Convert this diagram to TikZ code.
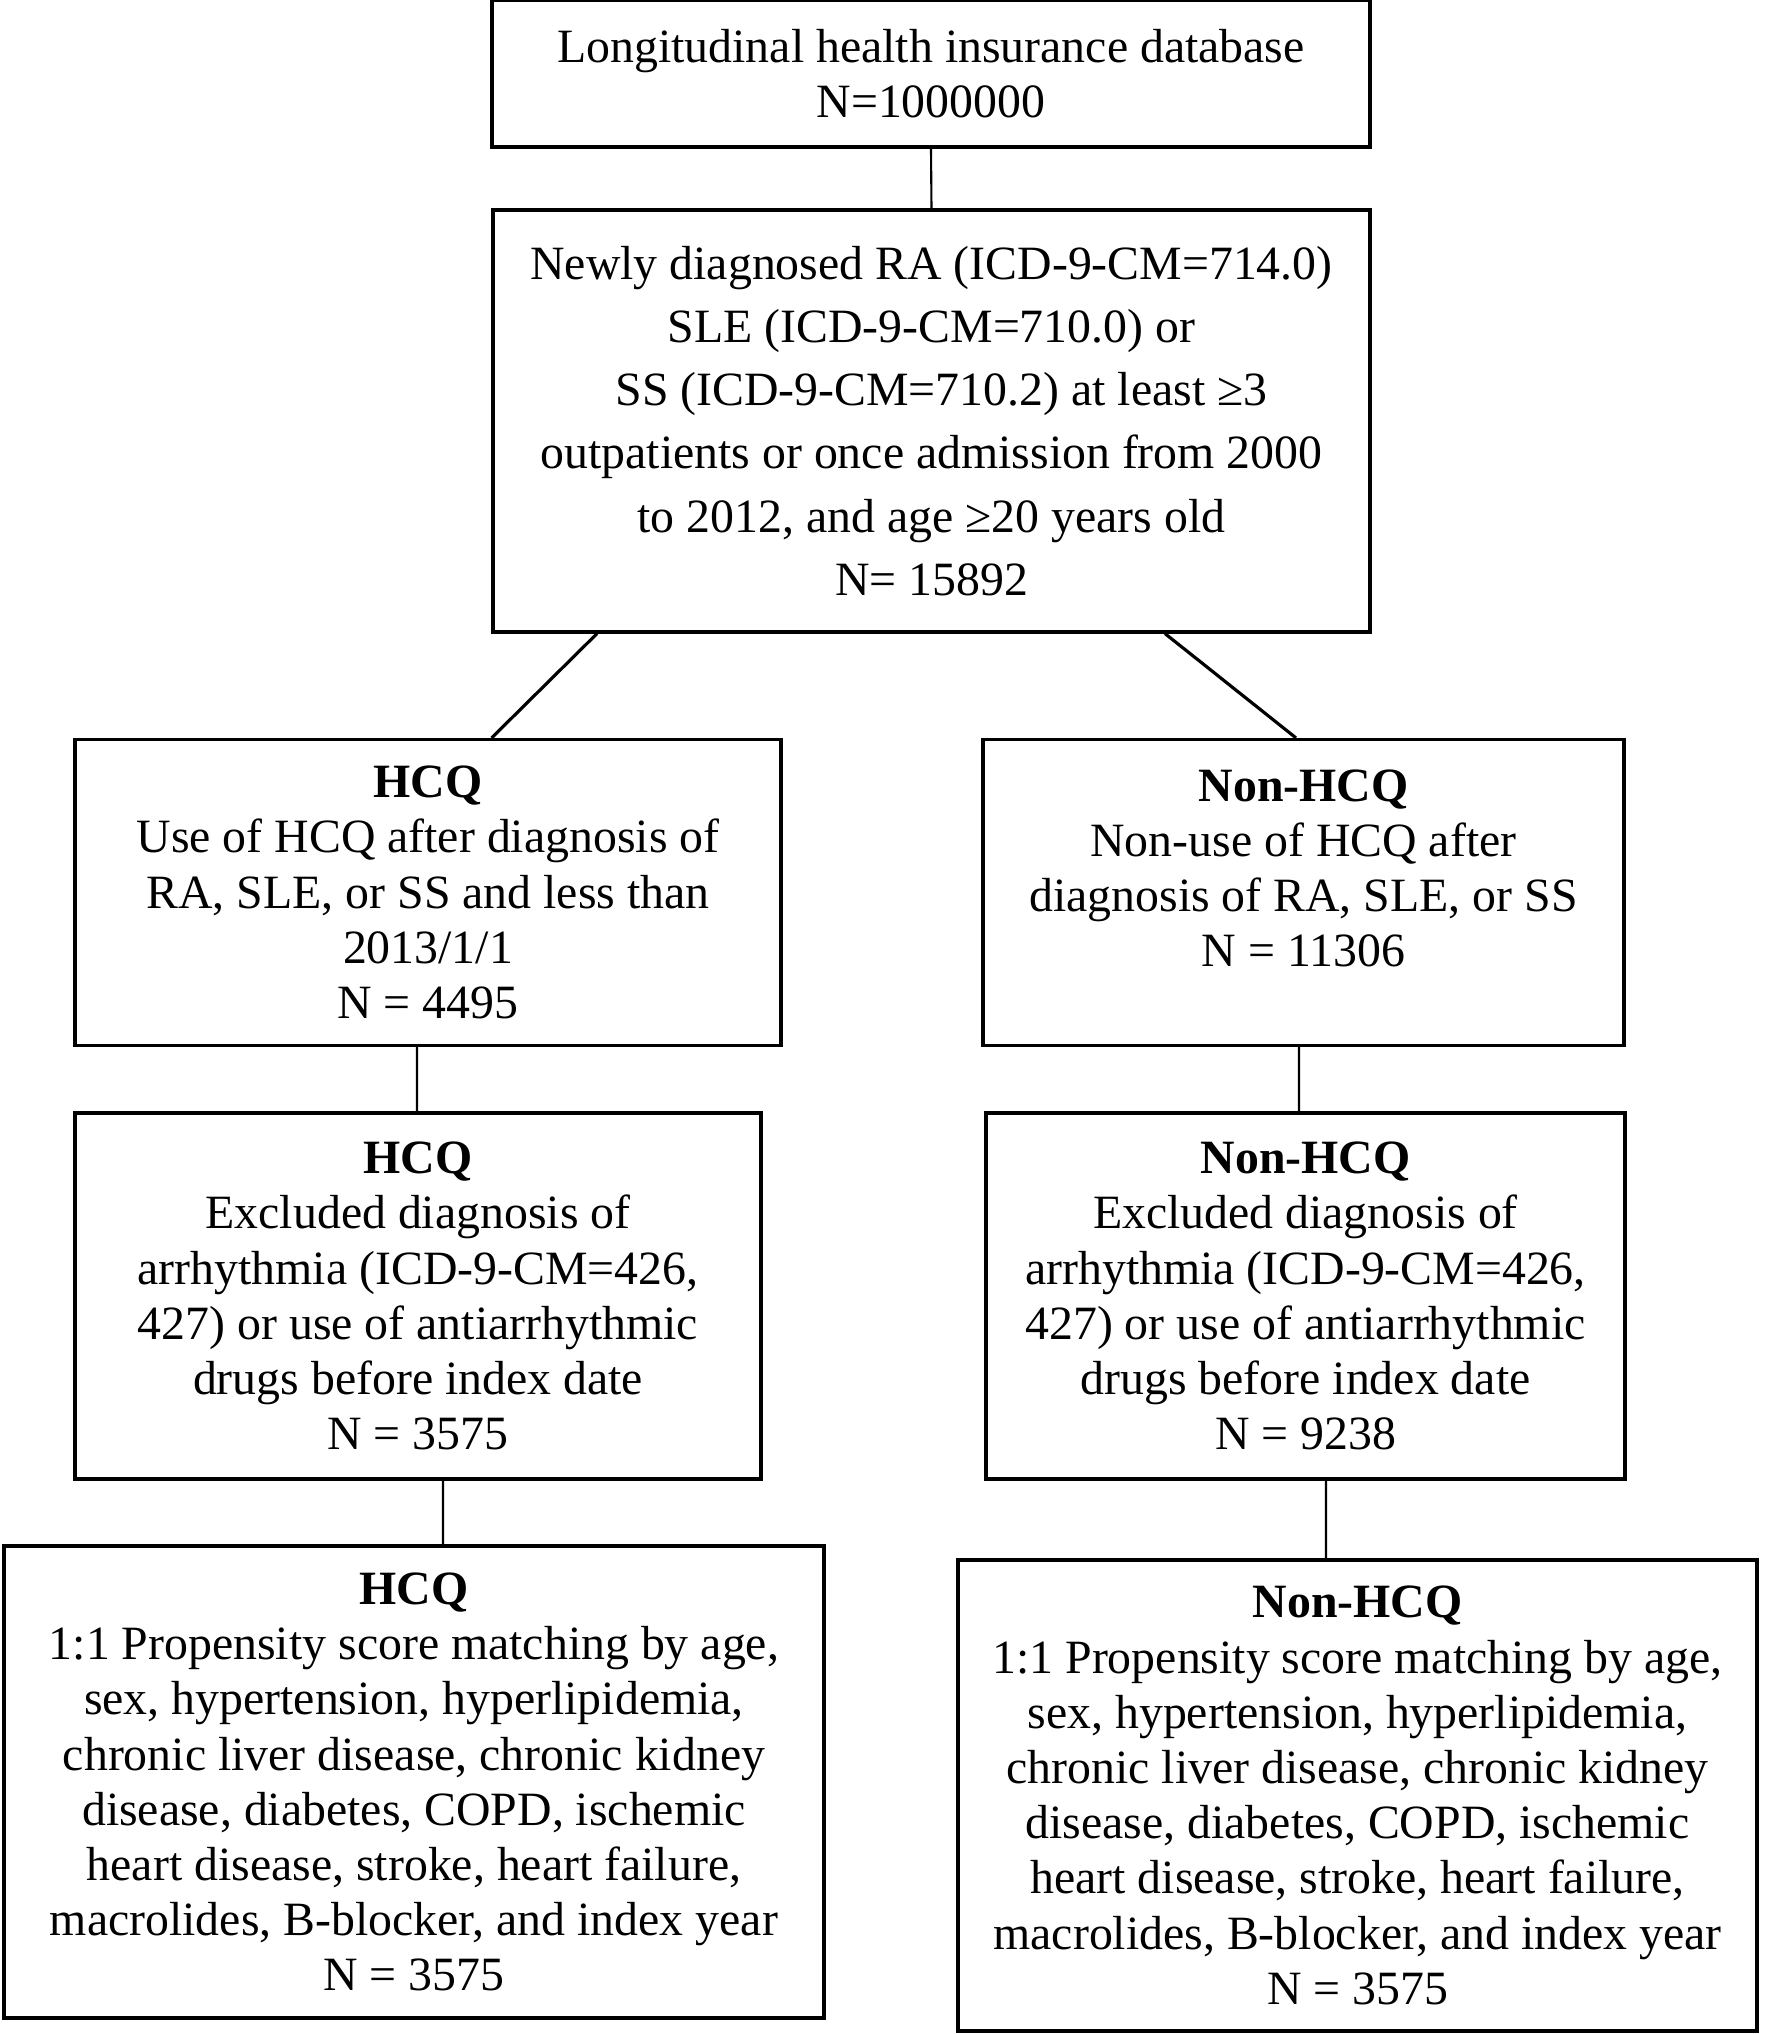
\documentclass[tikz,border=0pt]{standalone}
\usepackage{fontspec}
\setmainfont{Liberation Serif}
\tikzset{
  flowbox/.style={draw, line width=0.9pt, align=center, inner sep=0pt,
    font=\fontsize{13.6}{15.7}\selectfont},
  link/.style={line width=0.6pt},
  slant/.style={line width=0.9pt},
}

\begin{document}
\begin{tikzpicture}
  \useasboundingbox (0,0) rectangle (17.72,-20.34);
  % Database
  \node[flowbox, minimum width=8.78cm, minimum height=1.47cm] (db) at (9.31,-0.735)
    {Longitudinal health insurance database\\N=1000000};
  % Inclusion criteria
  \node[flowbox, minimum width=8.77cm, minimum height=4.22cm,
    font=\fontsize{13.6}{18}\selectfont] (incl) at (9.315,-4.21)
    {Newly diagnosed RA (ICD-9-CM=714.0)\\
     SLE (ICD-9-CM=710.0) or\\
     \hspace*{0.2cm}SS (ICD-9-CM=710.2) at least ≥3\\
     outpatients or once admission from 2000\\
     to 2012, and age ≥20 years old\\
     N= 15892};
  % Users and non-users
  \node[flowbox, minimum width=7.06cm, minimum height=3.06cm] (hcqA) at (4.28,-8.925)
    {\textbf{HCQ}\\Use of HCQ after diagnosis of\\RA, SLE, or SS and less than\\2013/1/1\\N = 4495};
  \node[flowbox, minimum width=6.41cm, minimum height=3.06cm] (nonA) at (13.035,-8.925)
    {\parbox[c][2.46cm][t]{6.2cm}{\centering\textbf{Non-HCQ}\\Non-use of HCQ after\\diagnosis of RA, SLE, or SS\\N = 11306}};
  % Exclusion
  \node[flowbox, minimum width=6.86cm, minimum height=3.66cm] (hcqB) at (4.18,-12.96)
    {\textbf{HCQ}\\Excluded diagnosis of\\arrhythmia (ICD-9-CM=426,\\427) or use of antiarrhythmic\\drugs before index date\\N = 3575};
  \node[flowbox, minimum width=6.39cm, minimum height=3.66cm] (nonB) at (13.055,-12.96)
    {\textbf{Non-HCQ}\\Excluded diagnosis of\\arrhythmia (ICD-9-CM=426,\\427) or use of antiarrhythmic\\drugs before index date\\N = 9238};
  % Matched cohorts
  \node[flowbox, minimum width=8.20cm, minimum height=4.72cm] (hcqC) at (4.14,-17.82)
    {\textbf{HCQ}\\1:1 Propensity score matching by age,\\sex, hypertension, hyperlipidemia,\\chronic liver disease, chronic kidney\\disease, diabetes, COPD, ischemic\\heart disease, stroke, heart failure,\\macrolides, B-blocker, and index year\\N = 3575};
  \node[flowbox, minimum width=7.99cm, minimum height=4.71cm] (nonC) at (13.575,-17.955)
    {\textbf{Non-HCQ}\\1:1 Propensity score matching by age,\\sex, hypertension, hyperlipidemia,\\chronic liver disease, chronic kidney\\disease, diabetes, COPD, ischemic\\heart disease, stroke, heart failure,\\macrolides, B-blocker, and index year\\N = 3575};
  % Connectors
  \draw[link] (db.south) -- (incl.north);
  \draw[slant] ([xshift=-3.345cm]incl.south) -- ([xshift=0.636cm]hcqA.north);
  \draw[slant] ([xshift=2.335cm]incl.south) -- ([xshift=-0.075cm]nonA.north);
  \draw[link] ([xshift=-1.1mm]hcqA.south) -- ([xshift=-0.1mm]hcqB.north);
  \draw[link] ([xshift=-0.45mm]nonA.south) -- ([xshift=-0.65mm]nonB.north);
  \draw[link] ([xshift=2.5mm]hcqB.south) -- ([xshift=2.9mm]hcqC.north);
  \draw[link] ([xshift=2.05mm]nonB.south) -- ([xshift=-3.15mm]nonC.north);
\end{tikzpicture}
\end{document}
